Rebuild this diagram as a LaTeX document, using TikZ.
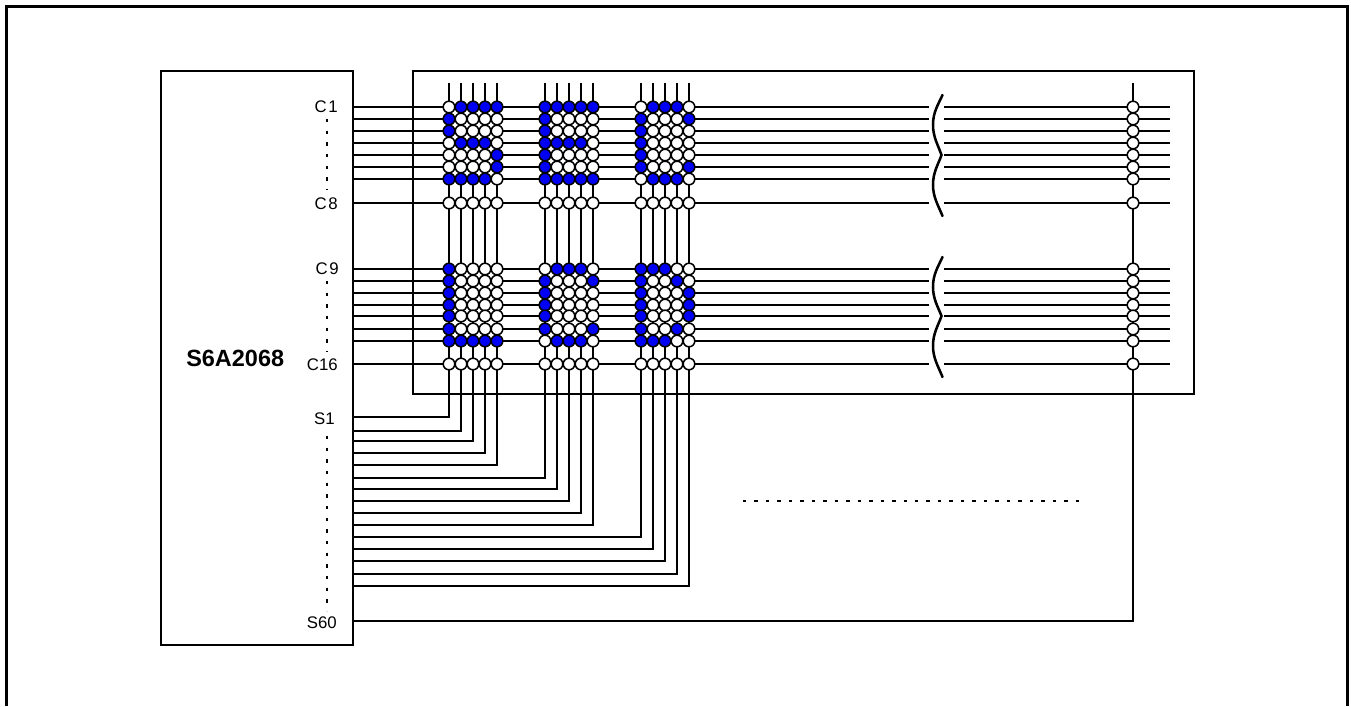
\documentclass[tikz,border=0pt]{standalone}
\usepackage{fontspec}
\setmainfont{Liberation Sans}
\definecolor{dotblue}{RGB}{0,0,245}
\tikzset{
  wire/.style={line width=1.15pt,black},
  boxframe/.style={draw=black,line width=1.35pt,inner sep=0pt,rectangle},
  lcd/.style={circle,draw=black,line width=1.15pt,minimum size=8.7pt,inner sep=0pt},
  pinlabel/.style={anchor=base east,inner sep=0pt,font=\fontsize{12.6}{14}\selectfont},
  chipname/.style={anchor=base west,inner sep=0pt,font=\fontsize{17.6}{20}\selectfont\bfseries},
  dotrun/.style={line width=1.5pt,dash pattern=on 2.6pt off 6.15pt},
  dotrunh/.style={line width=1.2pt,dash pattern=on 2.6pt off 6pt},
  breakmark/.style={line width=1.9pt,line cap=round}
}
\newcommand{\dotblock}[3]{%
  \foreach \yy/\a/\b/\c/\d/\e in {#3}{%
    \foreach \n/\v in {0/\a,1/\b,2/\c,3/\d,4/\e}{%
      \ifnum\v=1 \def\fillc{dotblue}\else\def\fillc{white}\fi
      \node[lcd,fill=\fillc] (#1-\yy-\n) at ({#2+12*\n},\yy) {};
    }%
  }%
}
\newcommand{\waveat}[2]{% top y, mid y
  \draw[breakmark] (942.5,#1) .. controls (938,{#1+10}) and (933,{#1+17}) .. (933,{#1+30})
      .. controls (933,{#1+42}) and (938,{#1+50}) .. (941.5,#2)
      .. controls (938,{#2+10}) and (933,{#2+17}) .. (933,{#2+30})
      .. controls (933,{#2+42}) and (938,{#2+50}) .. (942.5,{#2+61});
}
\begin{document}
\begin{tikzpicture}[x=0.75pt,y=-0.75pt]
\useasboundingbox (0,0) rectangle (1351,706);
% outer frame (open at the bottom)
\coordinate (fa) at (6.5,706);
\coordinate (fb) at (6.5,6.5);
\coordinate (fc) at (1347.5,6.5);
\coordinate (fd) at (1347.5,706);
\draw[line width=2.25pt,line join=miter] (fa) -- (fb) -- (fc) -- (fd);
% boxes
\node[boxframe,minimum width=144.4pt,minimum height=430.5pt] (chip) at (257,358.2) {};
\node[boxframe,minimum width=585.6pt,minimum height=242.2pt] (panel) at (803.5,232.2) {};
% row wires
\foreach \y [count=\i] in {107,119,131,143,155,167,179,203,269,281,293,305,316,329,341,364}{
  \coordinate (rs\i) at (353,\y);
  \coordinate (rb\i) at (929,\y);
  \coordinate (ra\i) at (944,\y);
  \coordinate (re\i) at (1170,\y);
  \draw[wire] (rs\i) -- (rb\i);
  \draw[wire] (ra\i) -- (re\i);
}
% column wires
\foreach \y/\x [count=\i] in {417/449,431/461,441/473,453/485,465/497,478/545,489/557,501/569,513/581,525/593,537/641,549/653,561/665,574/677,586/689,621/1133}{
  \coordinate (cs\i) at (353,\y);
  \coordinate (ct\i) at (\x,83);
  \draw[wire] (cs\i) -| (ct\i);
}
% break marks
\waveat{95}{155}
\waveat{257}{316}
% upper dot blocks
\dotblock{a}{449}{107/0/1/1/1/1,119/1/0/0/0/0,131/1/0/0/0/0,143/0/1/1/1/0,155/0/0/0/0/1,167/0/0/0/0/1,179/1/1/1/1/0,203/0/0/0/0/0}
\dotblock{b}{545}{107/1/1/1/1/1,119/1/0/0/0/0,131/1/0/0/0/0,143/1/1/1/1/0,155/1/0/0/0/0,167/1/0/0/0/0,179/1/1/1/1/1,203/0/0/0/0/0}
\dotblock{c}{641}{107/0/1/1/1/0,119/1/0/0/0/1,131/1/0/0/0/0,143/1/0/0/0/0,155/1/0/0/0/0,167/1/0/0/0/1,179/0/1/1/1/0,203/0/0/0/0/0}
% lower dot blocks
\dotblock{d}{449}{269/1/0/0/0/0,281/1/0/0/0/0,293/1/0/0/0/0,305/1/0/0/0/0,316/1/0/0/0/0,329/1/0/0/0/0,341/1/1/1/1/1,364/0/0/0/0/0}
\dotblock{e}{545}{269/0/1/1/1/0,281/1/0/0/0/1,293/1/0/0/0/0,305/1/0/0/0/0,316/1/0/0/0/0,329/1/0/0/0/1,341/0/1/1/1/0,364/0/0/0/0/0}
\dotblock{f}{641}{269/1/1/1/0/0,281/1/0/0/1/0,293/1/0/0/0/1,305/1/0/0/0/1,316/1/0/0/0/1,329/1/0/0/1/0,341/1/1/1/0/0,364/0/0/0/0/0}
% last column
\foreach \y in {107,119,131,143,155,167,179,203,269,281,293,305,316,329,341,364}{
  \node[lcd,fill=white] (z-\y) at (1133,\y) {};
}
% labels
\node[pinlabel] (lc1) at (338,113) {C\kern1.2pt 1};
\node[pinlabel] (lc8) at (338,209) {C\kern1.2pt 8};
\node[pinlabel] (lc9) at (339,274.5) {C\kern1.2pt 9};
\node[pinlabel] (lc16) at (338,370) {C16};
\node[pinlabel] (ls1) at (335,424) {S1};
\node[pinlabel] (ls60) at (337,628) {S60};
\node[chipname] (lname) at (186,366) {S6A2068};
% dotted runs
\draw[dotrun] (327,119) -- (327,190);
\draw[dotrun] (327,281) -- (327,352);
\draw[dotrun] (327,436) -- (327,611);
\draw[dotrunh] (743,501) -- (1081,501);
\end{tikzpicture}
\end{document}
